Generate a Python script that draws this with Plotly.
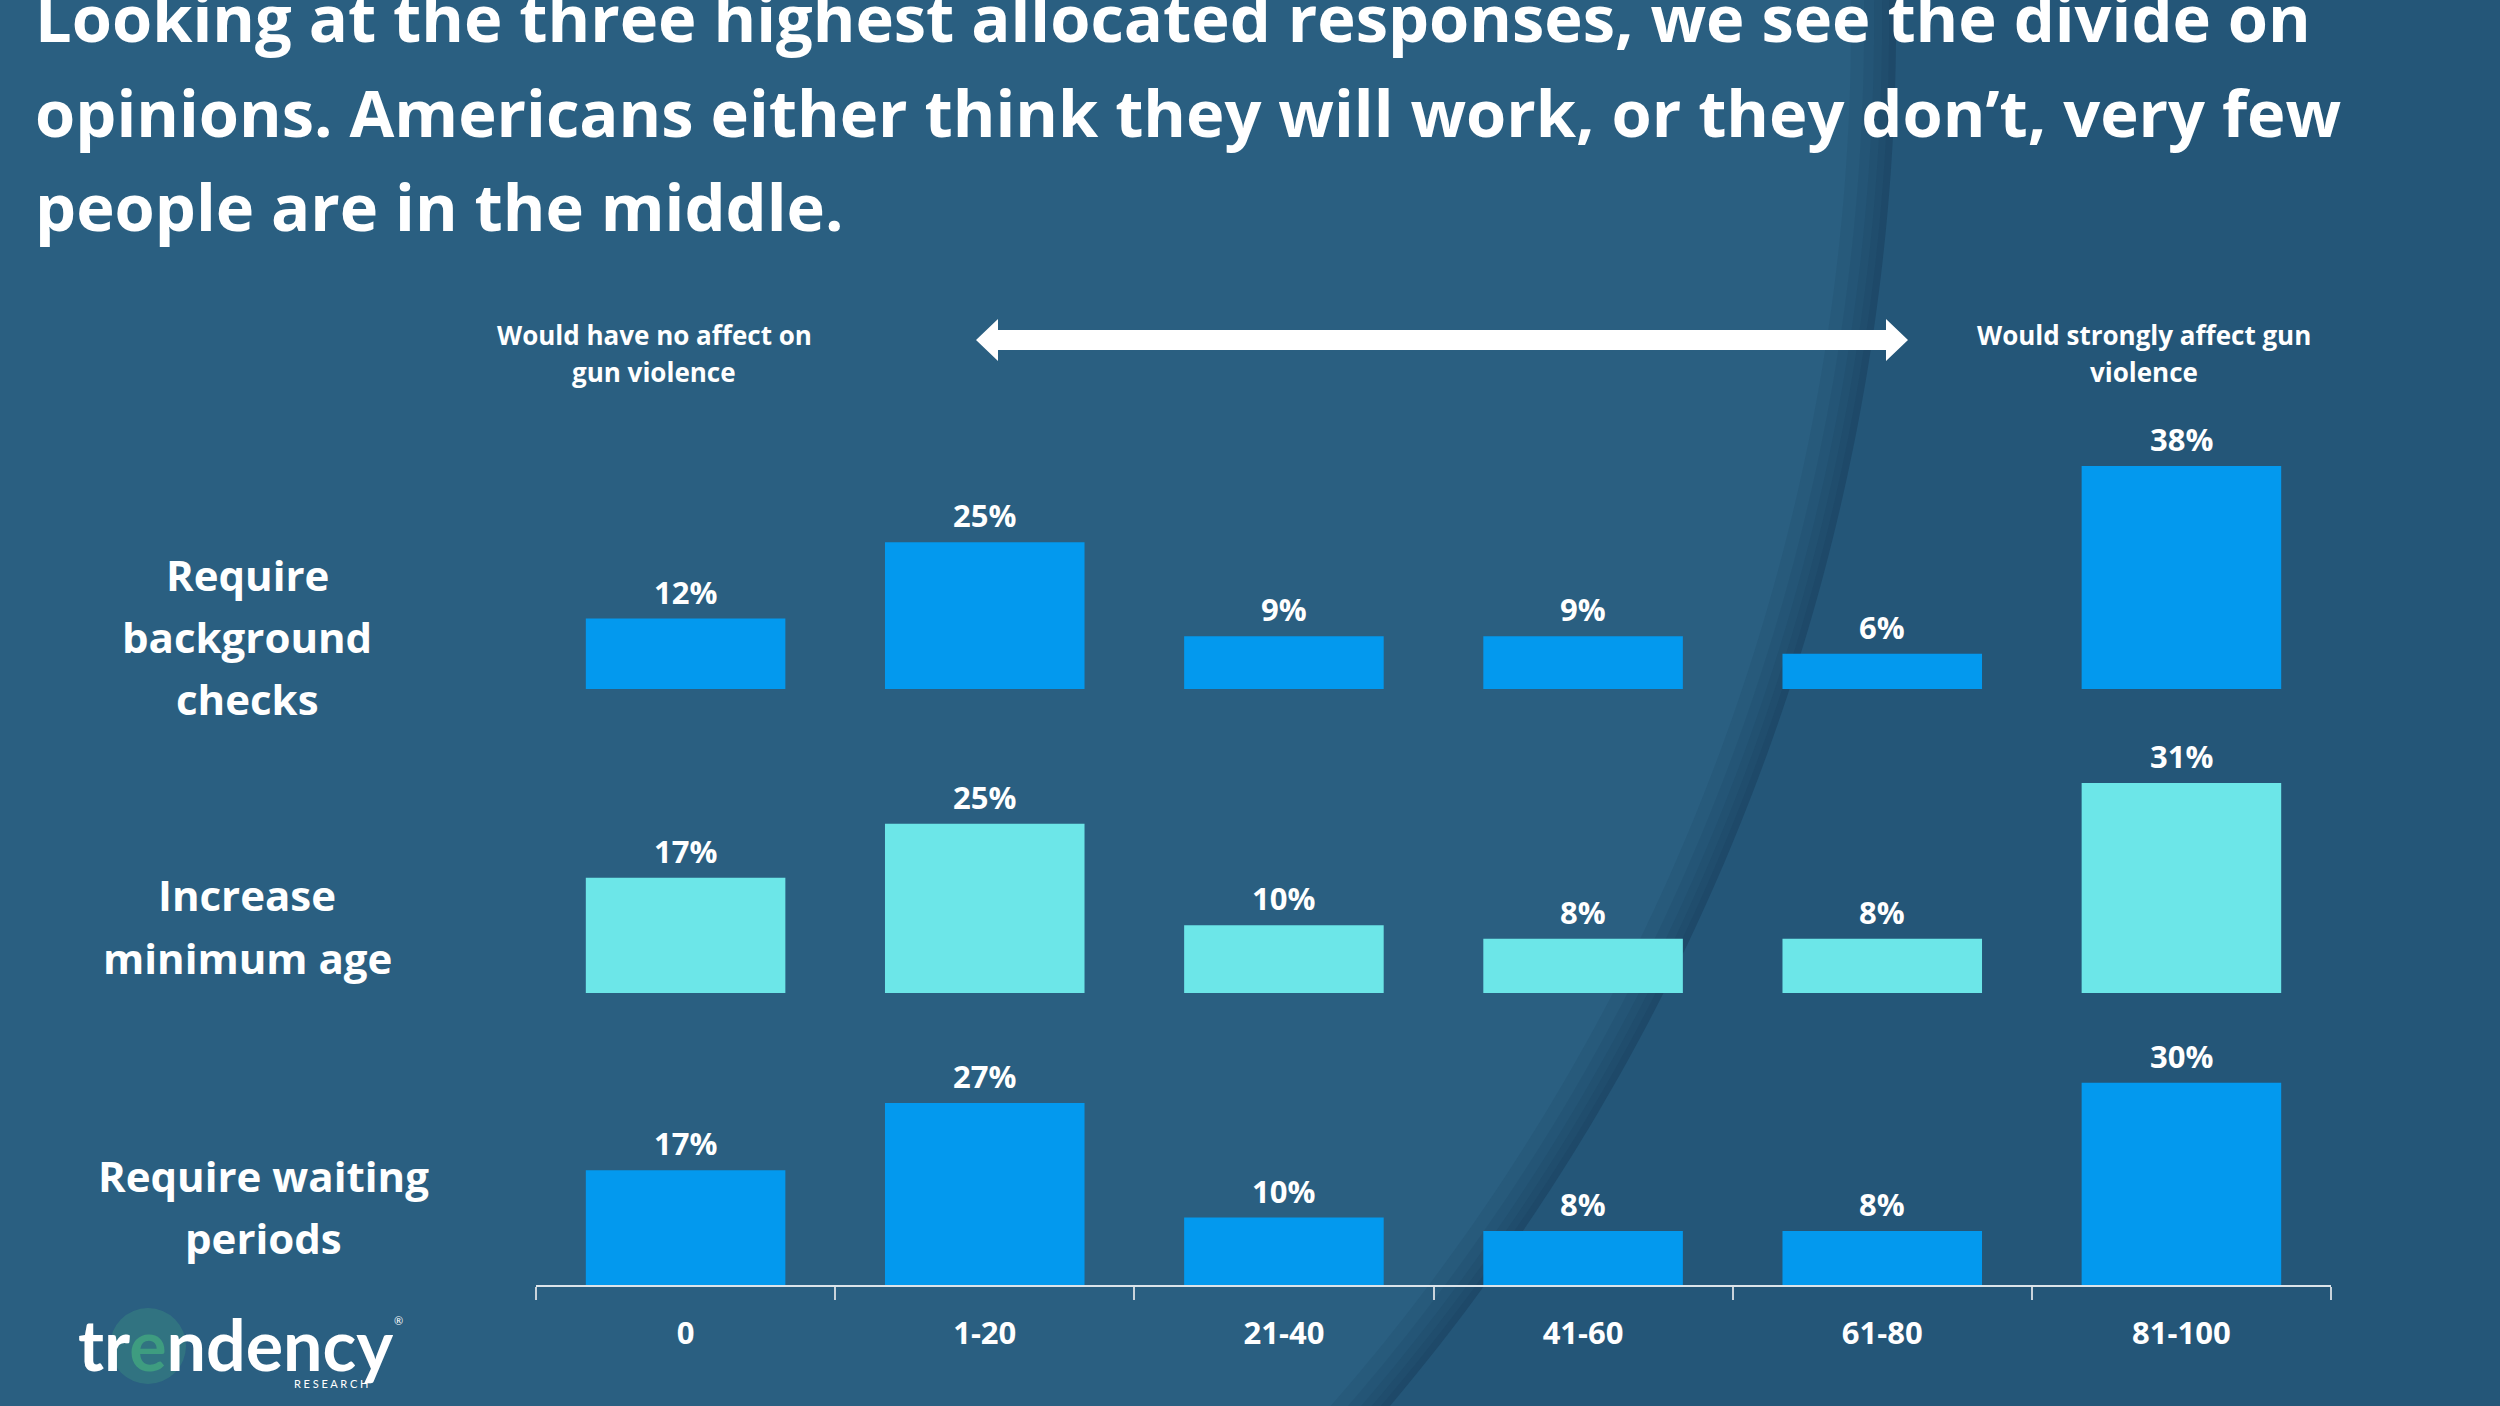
import numpy as np
import plotly.graph_objects as go

W, H = 2500, 1406

# ---------------- data ----------------
categories = ["0", "1-20", "21-40", "41-60", "61-80", "81-100"]
background_checks = [12, 25, 9, 9, 6, 38]
minimum_age = [17, 25, 10, 8, 8, 31]
waiting_periods = [17, 27, 10, 8, 8, 30]

title_lines = [
    "Looking at the three highest allocated responses, we see the divide on",
    "opinions. Americans either think they will work, or they don\u2019t, very few",
    "people are in the middle.",
]
row_labels = [
    ["Require", "background", "checks"],
    ["Increase", "minimum age"],
    ["Require waiting", "periods"],
]
left_header = ["Would have no affect on", "gun violence"]
right_header = ["Would strongly affect gun", "violence"]

# ---------------- style ----------------
BG_LEFT = "#2A5F81"
BG_RIGHT = "#245678"
BLUE = "#0399EE"
CYAN = "#6CE6E8"
FONT = "Open Sans"


def px(x):
    return x / W


def py(y):
    return 1 - y / H


fig = go.Figure()

rows = [
    dict(vals=background_checks, color=BLUE, yaxis="y3"),
    dict(vals=minimum_age, color=CYAN, yaxis="y2"),
    dict(vals=waiting_periods, color=BLUE, yaxis="y"),
]
for r in rows:
    fig.add_trace(go.Bar(x=categories, y=r["vals"], marker_color=r["color"],
                         marker_line_width=0, xaxis="x", yaxis=r["yaxis"],
                         hoverinfo="skip", showlegend=False))

annotations = []
# value labels
for r in rows:
    for c, v in zip(categories, r["vals"]):
        annotations.append(dict(x=c, y=v, xref="x", yref=r["yaxis"], text=f"<b>{v}%</b>",
                                showarrow=False, xanchor="center", yanchor="middle", yshift=27,
                                font=dict(family=FONT, size=31, color="white")))

# title lines
for txt, yc in zip(title_lines, [17, 112, 206]):
    annotations.append(dict(x=px(33), y=py(yc), xref="paper", yref="paper", text=f"<b>{txt}</b>",
                            showarrow=False, xanchor="left", yanchor="middle",
                            font=dict(family=FONT, size=65, color="white")))

# row labels
row_label_pos = [(247, [574, 636, 698]), (247, [894, 957]), (263, [1175, 1237])]
for lines, (xc, ys) in zip(row_labels, row_label_pos):
    for t, yc in zip(lines, ys):
        annotations.append(dict(x=px(xc), y=py(yc), xref="paper", yref="paper", text=f"<b>{t}</b>",
                                showarrow=False, xanchor="center", yanchor="middle",
                                font=dict(family=FONT, size=42, color="white")))

# headers
for lines, xc in [(left_header, 654), (right_header, 2144)]:
    for t, yc in zip(lines, [335, 372]):
        annotations.append(dict(x=px(xc), y=py(yc), xref="paper", yref="paper", text=f"<b>{t}</b>",
                                showarrow=False, xanchor="center", yanchor="middle",
                                font=dict(family=FONT, size=26, color="white")))

# logo (word mark + small "RESEARCH" line in one text block)
logo_text = ("<span style='font-size:70px'><b>tr<span style='color:#3E9C80'>e</span>ndency</b></span>"
             "<br><span style='font-size:11px'>R E S E A R C H\u2003\u2003\u2003</span>")
annotations.append(dict(x=px(76), y=py(1346), xref="paper", yref="paper",
                        text=logo_text, showarrow=False, xanchor="left", yanchor="middle",
                        align="right", font=dict(family="Lato", size=13, color="white")))
annotations.append(dict(x=px(398), y=py(1320), xref="paper", yref="paper",
                        text="\u00ae", showarrow=False, xanchor="center", yanchor="middle",
                        font=dict(family="Lato", size=11, color="white")))

# ---------------- background shapes ----------------
shapes = []
ca, cb, cr = -252.8, 20.7, 2148.9


def arc_points(radius):
    th = np.radians(np.linspace(-3, 44, 120))
    return ca + radius * np.cos(th), cb + radius * np.sin(th)


def region_path(radius):
    xs, ys = arc_points(radius)
    pts = [f"{px(x):.5f},{py(y):.5f}" for x, y in zip(xs, ys)]
    path = "M " + " L ".join(pts)
    path += f" L {px(2700):.5f},{py(1600):.5f} L {px(2700):.5f},{py(-200):.5f} Z"
    return path


for d in [45, 32, 22, 14, 7]:
    shapes.append(dict(type="path", xref="paper", yref="paper", path=region_path(cr - d),
                       fillcolor="rgba(15,40,62,0.08)", line=dict(width=0), layer="below"))
shapes.append(dict(type="path", xref="paper", yref="paper", path=region_path(cr),
                   fillcolor=BG_RIGHT, line=dict(width=0), layer="below"))

# logo halo
shapes.append(dict(type="circle", xref="paper", yref="paper",
                   x0=px(110), x1=px(186), y0=py(1384), y1=py(1308),
                   fillcolor="rgba(70,170,130,0.28)", line=dict(width=0), layer="below"))

# double arrow
arrow = [(976, 340), (998, 319), (998, 330), (1886, 330), (1886, 319), (1908, 340),
         (1886, 361), (1886, 350), (998, 350), (998, 361)]
apath = "M " + " L ".join(f"{px(x):.5f},{py(y):.5f}" for x, y in arrow) + " Z"
shapes.append(dict(type="path", xref="paper", yref="paper", path=apath,
                   fillcolor="white", line=dict(width=0), layer="above"))

# ---------------- layout ----------------
x0p, x1p = px(536), px(2331)
fig.update_layout(
    width=W, height=H,
    margin=dict(l=0, r=0, t=0, b=0),
    paper_bgcolor=BG_LEFT, plot_bgcolor="rgba(0,0,0,0)",
    bargap=0.333,
    showlegend=False,
    xaxis=dict(domain=[x0p, x1p], anchor="y", type="category", range=[-0.5, 5.5],
               showgrid=False, zeroline=False, showline=True, linecolor="#DCE4EA", linewidth=2,
               ticks="outside", tickson="boundaries", ticklen=13, tickwidth=1.5, tickcolor="#C9D3DB",
               tickfont=dict(family=FONT, size=31, color="white", weight="bold"),
               ticklabelstandoff=20, fixedrange=True),
    yaxis=dict(domain=[py(1285), py(1285 - 35 * 6.743)], range=[0, 35], anchor="x",
               visible=False, fixedrange=True),
    yaxis2=dict(domain=[py(993), py(993 - 35 * 6.775)], range=[0, 35], anchor="x",
                visible=False, fixedrange=True),
    yaxis3=dict(domain=[py(689), py(689 - 40 * 5.87)], range=[0, 40], anchor="x",
                visible=False, fixedrange=True),
    annotations=annotations,
    shapes=shapes,
)

fig.write_html("out.html", config={"displayModeBar": False},
               post_script="document.body.style.margin='0';document.body.style.overflow='hidden';")
